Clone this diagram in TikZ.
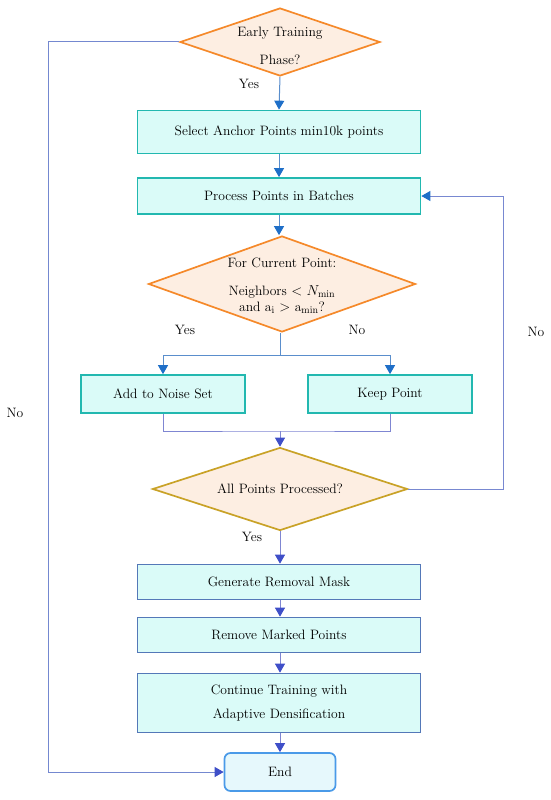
\documentclass[tikz,border=0pt]{standalone}
\usepackage{tikz}
\usetikzlibrary{arrows.meta,positioning,shapes.geometric}
\definecolor{boxfill}{HTML}{DAFBF8}
\definecolor{boxteal}{HTML}{22B8B0}
\definecolor{boxblue}{HTML}{5478B8}
\definecolor{endline}{HTML}{4A9AE8}
\definecolor{endfill}{HTML}{E6F8FC}
\definecolor{decfill}{HTML}{FDEEE2}
\definecolor{decorange}{HTML}{F5892A}
\definecolor{decgold}{HTML}{C9A227}
\definecolor{lineup}{HTML}{5A8ECC}
\definecolor{linelow}{HTML}{7F86D2}
\definecolor{tipup}{HTML}{1F6FC8}
\definecolor{tiplow}{HTML}{3F4FC8}

\begin{document}
\begin{tikzpicture}[x=1pt,y=-1pt,font=\fontsize{13.6}{15.5}\selectfont,
    stepbox/.style={draw=boxteal,fill=boxfill,line width=1.7pt,minimum width=283pt,inner sep=0pt,align=center},
    lowbox/.style={stepbox,draw=boxblue},
    decision/.style={diamond,draw=decorange,fill=decfill,line width=1.7pt,inner sep=0pt},
    endbox/.style={draw=endline,fill=endfill,line width=1.7pt,rounded corners=6pt,minimum width=111pt,minimum height=38pt},
    flowup/.style={draw=lineup,line width=1pt,-{Triangle[length=9pt,width=10pt,color=tipup]}},
    flowlow/.style={draw=linelow,line width=1pt,-{Triangle[length=9pt,width=10pt,color=tiplow]}},
    tag/.style={inner sep=1pt}]
    \useasboundingbox (0,0) rectangle (550,800);
    \node[decision,minimum width=200pt,minimum height=68pt] (early) at (280,42) {};
    \node[align=center] (earlytext) at (280,46) {Early Training\\[12pt]Phase?};
    \node[stepbox,minimum height=43pt] (anchor) at (279,132) {Select Anchor Points min10k points};
    \node[stepbox,minimum height=36pt] (batch) at (279,196) {Process Points in Batches};
    \node[decision,minimum width=267pt,minimum height=96pt] (check) at (282,284) {};
    \node[align=center] (checktext) at (282,286)
        {For Current Point:\\[12pt]Neighbors $<$ $N_{\min}$\\[1pt]and a$_{\mathrm{i}}$ $>$ a$_{\min}$?};
    \node[stepbox,minimum width=164pt,minimum height=38pt] (noise) at (163,394) {Add to Noise Set};
    \node[stepbox,minimum width=164pt,minimum height=38pt] (keep) at (390,394) {Keep Point};
    \node[decision,draw=decgold,minimum width=255pt,minimum height=83pt] (done) at (280,489) {};
    \node (donetext) at (280,489) {All Points Processed?};
    \node[lowbox,minimum height=35pt] (mask) at (279,582) {Generate Removal Mask};
    \node[lowbox,minimum height=35pt] (remove) at (279,635) {Remove Marked Points};
    \node[lowbox,minimum height=59pt] (cont) at (279,703) {Continue Training with\\[8pt]Adaptive Densification};
    \node[endbox] (end) at (280,772) {End};
    \coordinate (leftturn) at (48,42);
    \coordinate (split) at (280,355);
    \coordinate (merge) at (280,431);
    \coordinate (rightturn) at (503,489);
    \draw[flowup] (early.south) -- (anchor.north);
    \draw[flowup] (anchor) -- (batch);
    \draw[flowup] (batch.south) -- (batch.south |- check.north);
    \draw[flowup] (check.south -| split) -- (split) -| (noise.north);
    \draw[flowup] (split) -| (keep.north);
    \draw[linelow,line width=1pt] (noise.south) |- (merge) -| (keep.south);
    \draw[flowlow] (merge) -- (done.north);
    \draw[flowup,draw=linelow!80!lineup] (done.east) -- (rightturn) |- (batch.east);
    \draw[flowlow] (done.south) -- (mask.north -| done.south);
    \draw[flowlow] (mask.south -| end) -- (remove.north -| end);
    \draw[flowlow] (remove.south -| end) -- (cont.north -| end);
    \draw[flowlow] (cont.south -| end) -- (end.north);
    \draw[flowlow,draw=linelow!70!lineup] (early.west) -- (leftturn) |- (end.west);
    \node[tag] (yes1) at (249,84) {Yes};
    \node[tag] (yes2) at (185,330) {Yes};
    \node[tag] (no2) at (357,330) {No};
    \node[tag] (no3) at (536,332) {No};
    \node[tag] (yes3) at (252,537) {Yes};
    \node[tag] (no1) at (15,413) {No};
\end{tikzpicture}
\end{document}
